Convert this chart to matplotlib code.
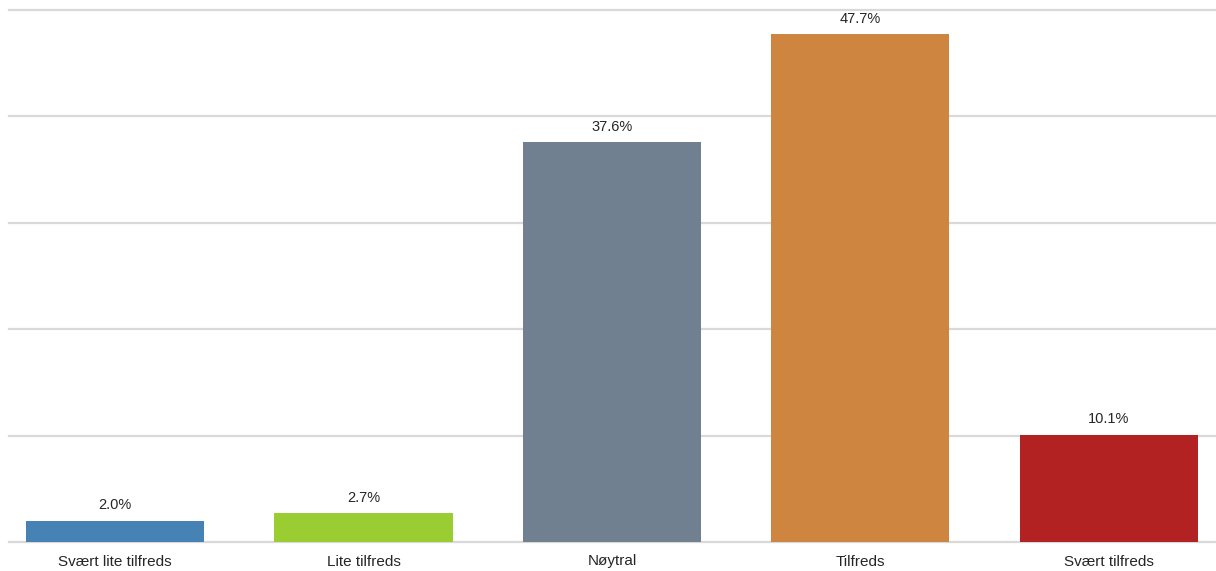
import matplotlib
matplotlib.use("Agg")
import matplotlib.pyplot as plt

categories = ["Svært lite tilfreds", "Lite tilfreds", "Nøytral", "Tilfreds", "Svært tilfreds"]
values = [2.0, 2.7, 37.6, 47.7, 10.1]
colors = ["#4682B4", "#9ACD32", "#708090", "#CD853F", "#B22222"]

fig = plt.figure(figsize=(12.16, 5.71), dpi=100)
ax = fig.add_axes([9 / 1216, 29 / 571, 1 - 9 / 1216, 532 / 571])

x = range(len(categories))
bars = ax.bar(x, values, width=0.717, color=colors, zorder=3)

for rect, v in zip(bars, values):
    ax.annotate(f"{v:.1f}%", (rect.get_x() + rect.get_width() / 2, rect.get_height()),
                xytext=(0, 6), textcoords="offset points", ha="center", va="bottom",
                fontsize=10.5, color="#262626", family="Liberation Sans")

ax.set_ylim(0, 50)
ax.set_xlim(-0.427, 4.432)
ax.set_yticks([10, 20, 30, 40, 50])
ax.yaxis.grid(True, color="#d9d9d9", linewidth=1.6, zorder=0)
for gl in ax.get_ygridlines():
    gl.set_clip_on(False)
ax.set_yticklabels([])
ax.tick_params(axis="y", length=0)
ax.set_xticks(list(x))
ax.set_xticklabels(categories, fontsize=11, family="Liberation Sans", color="#262626")
ax.tick_params(axis="x", length=0, pad=9)

for side in ["top", "right", "left"]:
    ax.spines[side].set_visible(False)
ax.spines["bottom"].set_color("#d9d9d9")
ax.spines["bottom"].set_linewidth(1.6)

fig.savefig("out.png", dpi=100)
